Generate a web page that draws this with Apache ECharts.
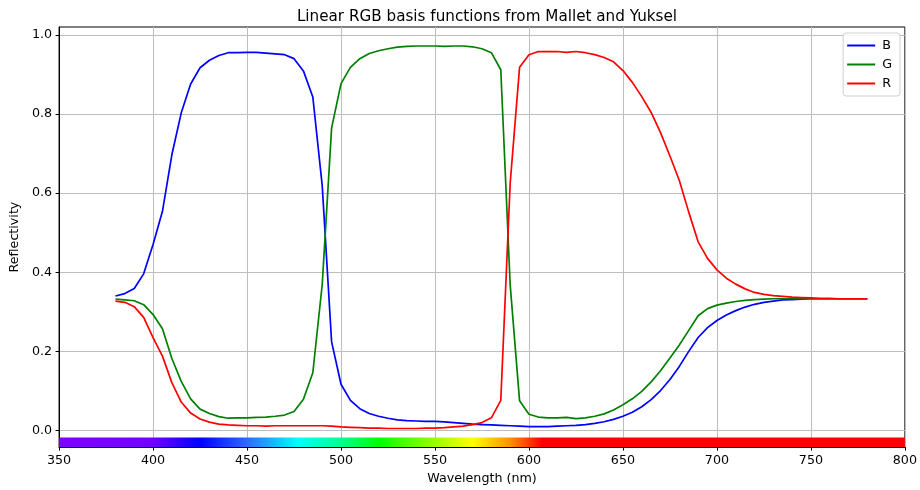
<!DOCTYPE html>
<html>
<head>
<meta charset="utf-8">
<title>Linear RGB basis functions from Mallet and Yuksel</title>
<script src="https://cdn.jsdelivr.net/npm/echarts@6/dist/echarts.min.js"></script>
<style>
  html, body { margin: 0; padding: 0; background: #fff; }
  #chart { width: 920px; height: 490px; }
</style>
</head>
<body>
<div id="chart"></div>
<script>
// Sampled wavelengths (nm), 380..780 in 5 nm steps
const wavelengths = [];
for (let w = 380; w <= 780; w += 5) wavelengths.push(w);

// Reflectivity of the blue basis function
const blueValues = [
  0.340, 0.346, 0.359, 0.396, 0.470, 0.554, 0.697, 0.803, 0.876, 0.917,
  0.936, 0.948, 0.955, 0.955, 0.956, 0.956, 0.954, 0.952, 0.950, 0.940,
  0.909, 0.843, 0.619, 0.224, 0.117, 0.076, 0.055, 0.043, 0.036, 0.031,
  0.027, 0.025, 0.024, 0.023, 0.023, 0.022, 0.020, 0.018, 0.016, 0.015,
  0.014, 0.013, 0.012, 0.011, 0.010, 0.010, 0.010, 0.011, 0.012, 0.013,
  0.015, 0.018, 0.022, 0.028, 0.036, 0.046, 0.060, 0.078, 0.101, 0.129,
  0.162, 0.200, 0.235, 0.260, 0.278, 0.292, 0.303, 0.312, 0.319, 0.324,
  0.327, 0.330, 0.331, 0.332, 0.333, 0.333, 0.333, 0.333, 0.333, 0.333,
  0.333
];

// Reflectivity of the green basis function
const greenValues = [
  0.332, 0.330, 0.328, 0.318, 0.293, 0.257, 0.182, 0.124, 0.080, 0.054,
  0.043, 0.035, 0.031, 0.032, 0.032, 0.033, 0.034, 0.036, 0.039, 0.048,
  0.079, 0.146, 0.369, 0.765, 0.877, 0.918, 0.940, 0.953, 0.960, 0.965,
  0.969, 0.971, 0.972, 0.972, 0.972, 0.971, 0.972, 0.972, 0.970, 0.965,
  0.955, 0.912, 0.368, 0.075, 0.041, 0.034, 0.032, 0.032, 0.033, 0.030,
  0.032, 0.036, 0.042, 0.052, 0.065, 0.080, 0.099, 0.123, 0.151, 0.183,
  0.216, 0.253, 0.290, 0.308, 0.317, 0.322, 0.326, 0.329, 0.331, 0.332,
  0.333, 0.333, 0.333, 0.333, 0.333, 0.333, 0.333, 0.333, 0.333, 0.333,
  0.333
];

// Reflectivity of the red basis function
const redValues = [
  0.327, 0.324, 0.313, 0.286, 0.235, 0.188, 0.121, 0.072, 0.044, 0.029,
  0.021, 0.016, 0.014, 0.013, 0.012, 0.012, 0.011, 0.012, 0.012, 0.012,
  0.012, 0.012, 0.012, 0.011, 0.009, 0.008, 0.007, 0.006, 0.006, 0.005,
  0.005, 0.005, 0.005, 0.006, 0.006, 0.007, 0.009, 0.011, 0.015, 0.020,
  0.032, 0.076, 0.625, 0.918, 0.950, 0.958, 0.958, 0.958, 0.956, 0.958,
  0.955, 0.950, 0.943, 0.932, 0.910, 0.880, 0.844, 0.804, 0.753, 0.694,
  0.632, 0.552, 0.477, 0.435, 0.406, 0.385, 0.370, 0.358, 0.349, 0.344,
  0.341, 0.339, 0.337, 0.336, 0.335, 0.334, 0.334, 0.333, 0.333, 0.333,
  0.333
];

// Tick positions
const xTicks = [350, 400, 450, 500, 550, 600, 650, 700, 750, 800];
const yTicks = [0, 0.2, 0.4, 0.6, 0.8, 1.0];

// Visible-spectrum strip drawn under the curves: [wavelength, colour]
const spectrumStops = [
  [350, '#7f00ff'], [400, '#7300ff'], [425, '#0000ff'], [450, '#2d6bff'],
  [477, '#00ffff'], [500, '#00ff90'], [520, '#00ff00'], [545, '#80ff00'],
  [570, '#ffff00'], [590, '#ff9000'], [607, '#ff0000'], [800, '#ff0000']
];
const spectrumRange = [350, 800];
const spectrumBand = [-0.0175, -0.042];

const pair = vals => wavelengths.map((w, i) => [w, vals[i]]);

const chart = echarts.init(document.getElementById('chart'), null, { renderer: 'canvas' });
const font = 'DejaVu Sans';
const lineW = 1.7;
const labelSize = 12.7;

chart.setOption({
  animation: false,
  backgroundColor: '#fff',
  textStyle: { fontFamily: font },
  title: {
    text: 'Linear RGB basis functions from Mallet and Yuksel',
    left: 482, top: 5, textAlign: 'center',
    textStyle: { fontFamily: font, fontSize: 15.2, fontWeight: 'normal', color: '#000' }
  },
  legend: {
    data: ['B', 'G', 'R'],
    orient: 'vertical',
    right: 20, top: 33,
    icon: 'rect',
    itemWidth: 28, itemHeight: 2, itemGap: 6,
    padding: [6, 8, 6, 4],
    backgroundColor: 'rgba(255,255,255,0.85)',
    borderColor: '#d0d0d0', borderWidth: 1, borderRadius: 3,
    textStyle: { fontFamily: font, fontSize: labelSize, color: '#000', padding: [0, 0, 0, 2] }
  },
  grid: {
    left: 57, right: 13, top: 27, bottom: 40,
    show: true, borderColor: '#000', borderWidth: 1, backgroundColor: 'transparent'
  },
  xAxis: {
    type: 'value', min: 350, max: 800, interval: 50,
    name: 'Wavelength (nm)', nameLocation: 'middle', nameGap: 24,
    nameTextStyle: { fontFamily: font, fontSize: labelSize, color: '#000' },
    axisLine: { show: true, onZero: false, lineStyle: { color: '#000', width: 1 } },
    axisTick: { show: true, length: 3.5, customValues: xTicks, lineStyle: { color: '#000' } },
    axisLabel: { customValues: xTicks, margin: 7, fontFamily: font, fontSize: labelSize, color: '#000' },
    splitLine: { show: true, lineStyle: { color: '#bdbdbd', width: 1 } }
  },
  yAxis: {
    type: 'value', min: -0.042, max: 1.02,
    name: 'Reflectivity', nameLocation: 'middle', nameGap: 36,
    nameTextStyle: { fontFamily: font, fontSize: labelSize, color: '#000' },
    axisLine: { show: true, onZero: false, lineStyle: { color: '#000', width: 1 } },
    axisTick: { show: true, length: 3.5, customValues: yTicks, lineStyle: { color: '#000' } },
    axisLabel: {
      customValues: yTicks, margin: 7, fontFamily: font, fontSize: labelSize, color: '#000',
      formatter: v => v.toFixed(1)
    },
    splitLine: { show: true, lineStyle: { color: '#bdbdbd', width: 1 } }
  },
  series: [
    {
      type: 'custom', name: 'spectrum', silent: true, z: 1,
      data: [[spectrumRange[0], spectrumRange[1]]],
      renderItem: (params, api) => {
        const p0 = api.coord([api.value(0), spectrumBand[0]]);
        const p1 = api.coord([api.value(1), spectrumBand[1]]);
        const span = spectrumRange[1] - spectrumRange[0];
        const stops = spectrumStops.map(s => ({ offset: (s[0] - spectrumRange[0]) / span, color: s[1] }));
        return {
          type: 'rect',
          shape: { x: p0[0], y: p0[1], width: p1[0] - p0[0], height: p1[1] - p0[1] },
          style: { fill: new echarts.graphic.LinearGradient(0, 0, 1, 0, stops) }
        };
      }
    },
    {
      name: 'B', type: 'line', data: pair(blueValues), showSymbol: false, symbol: 'none',
      color: '#0000ff', lineStyle: { width: lineW, color: '#0000ff' }, z: 3
    },
    {
      name: 'G', type: 'line', data: pair(greenValues), showSymbol: false, symbol: 'none',
      color: '#008000', lineStyle: { width: lineW, color: '#008000' }, z: 3
    },
    {
      name: 'R', type: 'line', data: pair(redValues), showSymbol: false, symbol: 'none',
      color: '#ff0000', lineStyle: { width: lineW, color: '#ff0000' }, z: 3
    }
  ]
});
</script>
</body>
</html>
